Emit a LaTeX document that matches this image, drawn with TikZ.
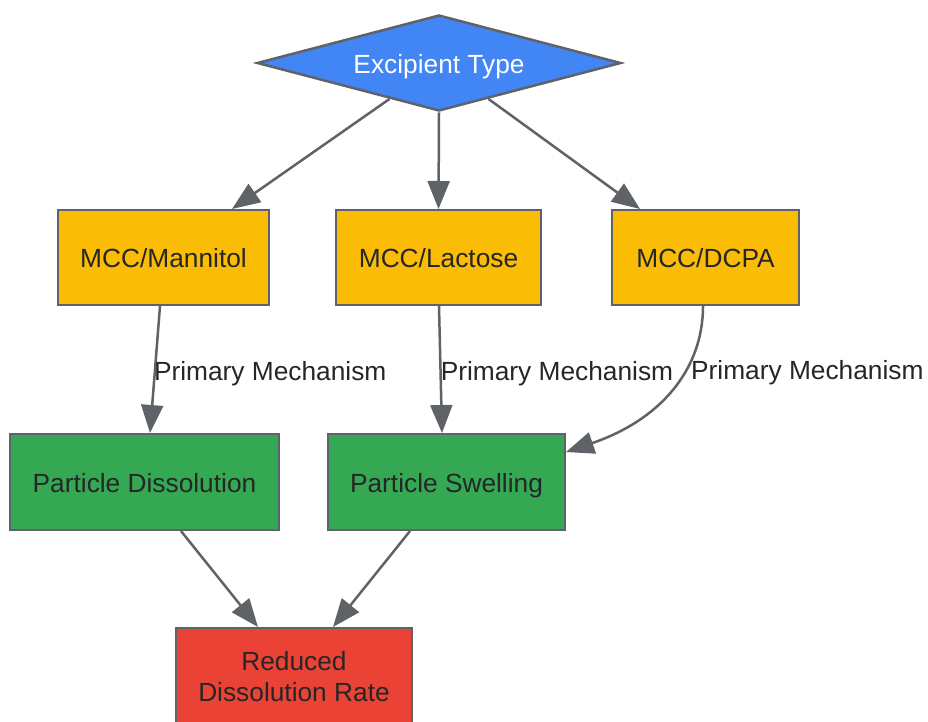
\documentclass[tikz,border=0pt]{standalone}
\usepackage{fontspec}
\setmainfont{Liberation Sans}
\usetikzlibrary{shapes.geometric,arrows.meta,calc}
\definecolor{gblue}{HTML}{4285F4}
\definecolor{gyellow}{HTML}{FBBC05}
\definecolor{ggreen}{HTML}{34A853}
\definecolor{gred}{HTML}{EA4335}
\definecolor{edgegray}{HTML}{5F6368}
\definecolor{txt}{HTML}{262626}
\tikzset{
  fnt/.style={font=\fontsize{26.3}{31}\selectfont},
  one/.style={text height=22pt, text depth=2pt},
  box/.style={draw=edgegray, line width=2pt, rectangle, inner sep=0pt, text=txt, fnt, align=center},
  decision/.style={draw=edgegray, line width=2.5pt, diamond, aspect=3.79, inner sep=0pt,
    minimum width=364pt, minimum height=96pt, fill=gblue, text=white, fnt, one},
  conn/.style={draw=edgegray, line width=2.5pt, -{Triangle[length=28pt,width=22pt]}},
  lbl/.style={text=txt, fnt, one, inner sep=0pt, anchor=west, yshift=2pt}
}
\begin{document}
\begin{tikzpicture}[x=1pt,y=-1pt]
\useasboundingbox (0,0) rectangle (928,721);
\node[decision] (ex) at (439,63) {Excipient Type};
\node[box, one, fill=gyellow, minimum width=211pt, minimum height=95pt] (man) at (163.5,257.5) {MCC/Mannitol};
\node[box, one, fill=gyellow, minimum width=205pt, minimum height=95pt] (lac) at (438.5,257.5) {MCC/Lactose};
\node[box, one, fill=gyellow, minimum width=187pt, minimum height=95pt] (dcpa) at (705.5,257.5) {MCC/DCPA};
\node[box, one, fill=ggreen, minimum width=269pt, minimum height=96pt] (dis) at (144.5,482) {Particle Dissolution};
\node[box, one, fill=ggreen, minimum width=237pt, minimum height=96pt] (swe) at (446.5,482) {Particle Swelling};
\node[box, fill=gred, minimum width=236pt, minimum height=98pt] (red) at (294,677) {Reduced\\Dissolution Rate};

\draw[conn] ($(ex.west)!0.73!(ex.south)$) -- ($(man.north)+(68.5,0)$);
\draw[conn] (ex.south) -- (lac.north);
\draw[conn] ($(ex.east)!0.73!(ex.south)$) -- ($(dcpa.north)+(-65.5,0)$);

\draw[conn] ($(man.south)+(-3.5,0)$) -- node[lbl, pos=0.52, xshift=-2pt] {Primary Mechanism} ($(dis.north)+(5.5,0)$);
\draw[conn] ($(lac.south)+(0.5,0)$) -- node[lbl, pos=0.52, xshift=-1pt] {Primary Mechanism} ($(swe.north)+(-4.5,0)$);
\draw[conn] ($(dcpa.south)+(-2.5,0)$) .. controls (703,370) and (660,420) .. node[lbl, pos=0.37, xshift=5pt] {Primary Mechanism} ($(swe.east)+(0,-30)$);

\draw[conn] ($(dis.south)+(36.5,0)$) -- ($(red.north)+(-36,0)$);
\draw[conn] ($(swe.south)+(-36.5,0)$) -- ($(red.north)+(39,0)$);
\end{tikzpicture}
\end{document}
